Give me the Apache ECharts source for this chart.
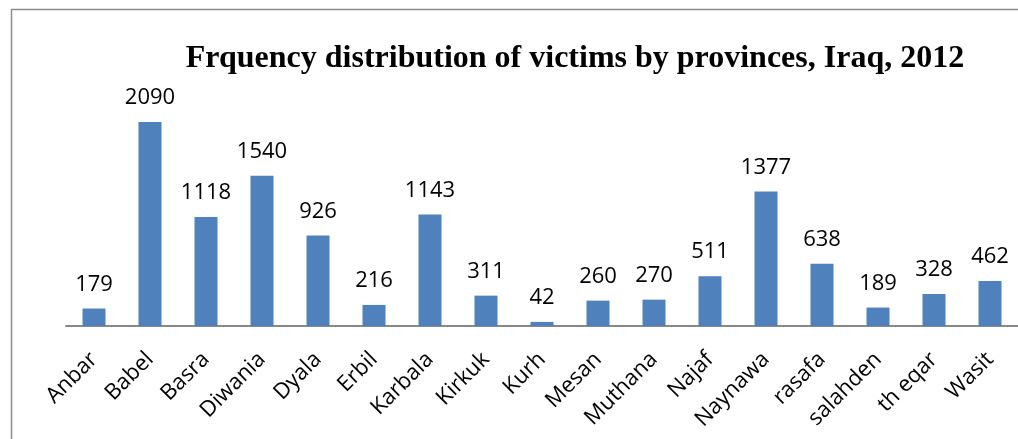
<!DOCTYPE html>
<html>
<head>
<meta charset="utf-8">
<script src="https://cdn.jsdelivr.net/npm/echarts@6/dist/echarts.min.js"></script>
<style>
  html, body { margin: 0; padding: 0; background: #fff; }
  #chart { width: 1018px; height: 439px; }
</style>
</head>
<body>
<div id="chart"></div>
<script>
const provinces = ['Anbar', 'Babel', 'Basra', 'Diwania', 'Dyala', 'Erbil', 'Karbala', 'Kirkuk', 'Kurh',
  'Mesan', 'Muthana', 'Najaf', 'Naynawa', 'rasafa', 'salahden', 'th eqar', 'Wasit'];
const victims = [179, 2090, 1118, 1540, 926, 216, 1143, 311, 42, 260, 270, 511, 1377, 638, 189, 328, 462];

const labelFont = '"Open Sans", "Liberation Sans", sans-serif';

const chart = echarts.init(document.getElementById('chart'));
chart.setOption({
  animation: false,
  title: {
    text: 'Frquency distribution of victims by provinces, Iraq, 2012',
    left: 570,
    top: 38,
    textAlign: 'center',
    textStyle: {
      fontFamily: '"Liberation Serif", "DejaVu Serif", serif',
      fontWeight: 'bold',
      fontSize: 32,
      color: '#000'
    }
  },
  graphic: [{
    type: 'rect',
    shape: { x: 11.5, y: 9.5, width: 1200, height: 600 },
    style: { fill: 'none', stroke: '#8c8c8c', lineWidth: 1.5 },
    z: -1
  }],
  grid: { left: 66, right: -5, top: 82, bottom: 113 },
  xAxis: {
    type: 'category',
    data: provinces,
    axisLine: { lineStyle: { color: '#888', width: 2 } },
    axisTick: { show: false },
    axisLabel: {
      rotate: 45,
      interval: 0,
      margin: 30,
      color: '#000',
      fontFamily: labelFont,
      fontSize: 22
    }
  },
  yAxis: {
    type: 'value',
    min: 0,
    max: 2500,
    show: false,
    splitLine: { show: false }
  },
  series: [{
    type: 'bar',
    data: victims,
    barWidth: 23,
    itemStyle: { color: '#4f81bd' },
    label: {
      show: true,
      position: 'top',
      distance: 13,
      color: '#000',
      fontFamily: labelFont,
      fontSize: 22
    }
  }]
});
</script>
</body>
</html>
